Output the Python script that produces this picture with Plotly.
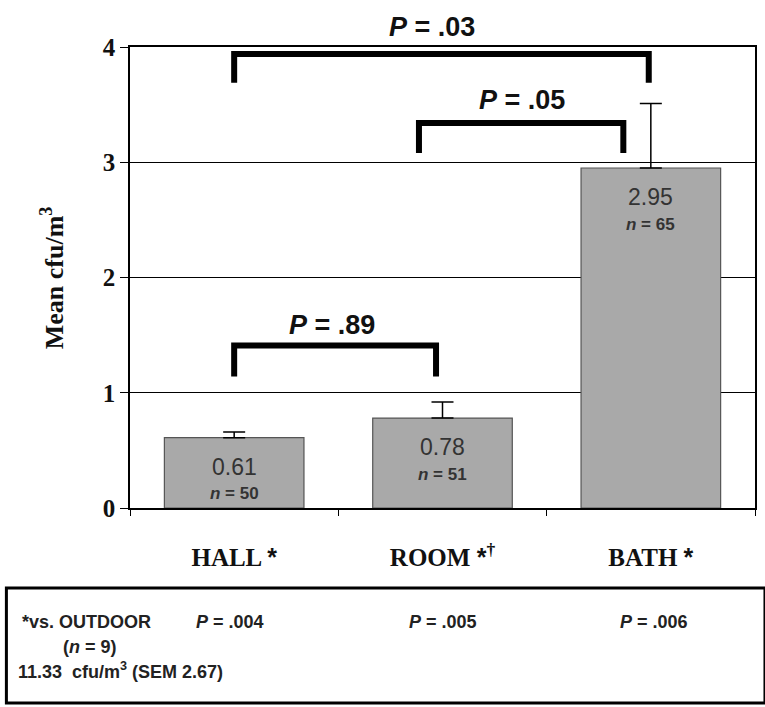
import plotly.graph_objects as go

# ---- data ----
categories = ["HALL", "ROOM", "BATH"]
cat_labels = ["<b>HALL <span style='font-family:Arial'>*</span></b>",
              "<b>ROOM <span style='font-family:Arial'>*</span><sup>†</sup></b>",
              "<b>BATH <span style='font-family:Arial'>*</span></b>"]
means = [0.61, 0.78, 2.95]
sems = [0.05, 0.14, 0.56]
n_values = [50, 51, 65]
y_ticks = [0, 1, 2, 3, 4]
y_ticktext = ["<b>0</b>", "<b>1</b>", "<b>2</b>", "<b>3</b>", "<b>4</b>"]

# comparison brackets
brackets_x0 = [0.0, 0.887, 0.0]
brackets_x1 = [1.99, 1.868, 0.969]
brackets_ytop = [3.94, 3.34, 1.41]
brackets_ybot = [3.69, 3.08, 1.14]
brackets_p = [".03", ".05", ".89"]
brackets_lx = [0.95, 1.38, 0.47]
brackets_ly = [4.17, 3.54, 1.59]

outdoor_p = [".004", ".005", ".006"]

W, H = 765, 707
L, R, T, B = 130, 8, 47, 199
PW, PH = W - L - R, H - T - B

def px(xp):
    return (xp - L) / PW

def py(yp):
    return (H - B - yp) / PH

YMAX = 4.0

fig = go.Figure()
fig.add_trace(go.Bar(
    x=categories, y=means, width=0.67,
    marker=dict(color="#a9a9a9", line=dict(color="#555555", width=1.2)),
    error_y=dict(type="data", symmetric=False, array=sems, arrayminus=[0]*3,
                 color="black", thickness=1.5, width=11),
    hoverinfo="skip",
))

shapes = []
annotations = []
for x0, x1, yt, yb, p, lx, ly in zip(brackets_x0, brackets_x1, brackets_ytop, brackets_ybot,
                                     brackets_p, brackets_lx, brackets_ly):
    shapes.append(dict(type="path", xref="x", yref="y",
                       path=f"M {x0} {yb} L {x0} {yt} L {x1} {yt} L {x1} {yb}",
                       line=dict(color="black", width=6)))
    annotations.append(dict(x=lx, y=ly / YMAX, xref="x", yref="paper", showarrow=False,
                            yanchor="middle", text=f"<b><i>P</i> = {p}</b>",
                            font=dict(family="Arial", size=27, color="#111")))

for i, (m, n) in enumerate(zip(means, n_values)):
    annotations.append(dict(x=i, y=m, xref="x", yref="y", showarrow=False, yshift=-29,
                            yanchor="middle", text=f"{m:.2f}",
                            font=dict(family="Arial", size=23, color="#333")))
    annotations.append(dict(x=i, y=m, xref="x", yref="y", showarrow=False, yshift=-56,
                            yanchor="middle", text=f"<b><i>n</i> = {n}</b>",
                            font=dict(family="Arial", size=17, color="#333")))

# y axis title
annotations.append(dict(x=px(52), y=py(278), xref="paper", yref="paper", showarrow=False,
                        xanchor="center", yanchor="middle",
                        textangle=-90, text="<b>Mean cfu/m<sup>3</sup></b>",
                        font=dict(family="Liberation Serif", size=26, color="#111")))

# bottom box
shapes.append(dict(type="rect", xref="paper", yref="paper",
                   x0=px(6), x1=px(767), y0=py(703), y1=py(588),
                   line=dict(color="black", width=3)))
box_font = dict(family="Arial", size=18, color="#222")
annotations.append(dict(x=px(20), y=py(622), xref="paper", yref="paper", showarrow=False,
                        xanchor="left", yanchor="middle", text="<b>*vs. OUTDOOR</b>", font=box_font))
annotations.append(dict(x=px(61), y=py(647), xref="paper", yref="paper", showarrow=False,
                        xanchor="left", yanchor="middle", text="<b>(<i>n</i> = 9)</b>", font=box_font))
annotations.append(dict(x=px(16), y=py(670), xref="paper", yref="paper", showarrow=False,
                        xanchor="left", yanchor="middle",
                        text="<b>11.33  cfu/m<sup>3</sup> (SEM 2.67)</b>", font=box_font))
for xp, p in zip([194, 408, 620], outdoor_p):
    annotations.append(dict(x=px(xp), y=py(622), xref="paper", yref="paper", showarrow=False,
                            xanchor="left", yanchor="middle",
                            text=f"<b><i>P</i> = {p}</b>", font=box_font))

fig.update_layout(
    width=W, height=H,
    margin=dict(l=L, r=R, t=T, b=B),
    paper_bgcolor="white", plot_bgcolor="white",
    showlegend=False,
    shapes=shapes, annotations=annotations,
    xaxis=dict(type="category", tickvals=categories, ticktext=cat_labels,
               tickson="boundaries", ticks="outside", ticklen=6, tickcolor="black",
               showline=True, linecolor="black", linewidth=1.5, mirror=True,
               showgrid=False, ticklabelstandoff=26,
               tickfont=dict(family="Liberation Serif", size=25, color="#111")),
    yaxis=dict(range=[0, YMAX], tickvals=y_ticks, ticktext=y_ticktext, ticks="outside",
               ticklen=8, tickcolor="black",
               showline=True, linecolor="black", linewidth=1.5, mirror=True,
               showgrid=True, gridcolor="black", gridwidth=1, zeroline=False,
               tickfont=dict(family="Liberation Serif", size=25, color="#111")),
)

fig.write_html("out.html", config={"displayModeBar": False},
               post_script="document.body.style.margin='0';document.body.style.overflow='hidden';")
